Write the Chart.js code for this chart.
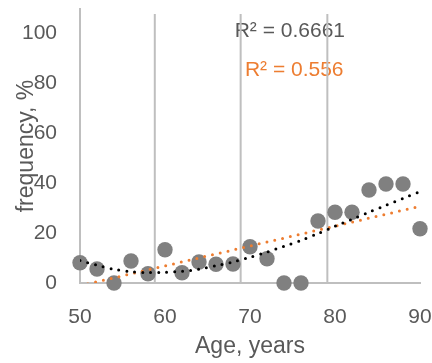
<!DOCTYPE html>
<html><head><meta charset="utf-8">
<script src="https://cdn.jsdelivr.net/npm/chart.js@4.4.1/dist/chart.umd.min.js"></script>
<style>html,body{margin:0;padding:0;background:#fff}#wrap{width:432px;height:363px}</style>
</head><body><div id="wrap"><canvas id="c" width="432" height="363"></canvas></div>
<script>
// Observed data (age in years, frequency in %)
const ages = [50,52,54,56,58,60,62,64,66,68,70,72,74,76,78,80,82,84,86,88,90];
const frequency = [8.1,5.6,0,8.8,3.7,13.3,4.1,8.4,7.5,7.6,14.5,9.7,0,0,24.8,28.3,28.3,37.2,39.6,39.6,21.7];
// Polynomial trendline (black dotted)
const polyTrend = [9.0,7.1,5.5,4.5,4.2,4.3,4.7,5.5,6.9,8.4,10.3,12.4,14.7,17.0,19.8,22.7,25.5,28.3,31.1,33.8,36.6];
// Linear trendline (orange dotted), end points
const linTrendX = [50, 90];
const linTrendY = [-1.1, 30.7];
// Axes
const xTicks = [50,60,70,80,90];
const yTicks = [0,20,40,60,80,100];
const xRange = [50, 90];
const yRange = [0, 109.6];
// Vertical reference lines
const refLinesX = [58.8, 68.9, 79.1];
const refLineTop = 107.6;
// R² labels
const r2Labels = ['R² = 0.6661', 'R² = 0.556'];
const r2X = [68.2, 69.4];
const r2Y = [100.6, 85.0];
const r2Colors = ['#595959', '#ED7D31'];

const FONT = '"Liberation Sans", Arial, sans-serif';
const TXT = '#595959';
const GRID = '#BFBFBF';

const refDatasets = refLinesX.map(v => ({
  type: 'line',
  data: [{x: v, y: 0}, {x: v, y: refLineTop}],
  borderColor: GRID, borderWidth: 2, pointRadius: 0, order: 10
}));

const r2Plugin = {
  id: 'r2',
  beforeDatasetsDraw(chart) {
    const {ctx, scales: {x, y}} = chart;
    ctx.save();
    ctx.font = '21px ' + FONT;
    ctx.textAlign = 'left';
    ctx.textBaseline = 'middle';
    r2Labels.forEach((t, i) => {
      ctx.fillStyle = r2Colors[i];
      ctx.fillText(t, x.getPixelForValue(r2X[i]), y.getPixelForValue(r2Y[i]));
    });
    ctx.restore();
  }
};

new Chart(document.getElementById('c'), {
  type: 'scatter',
  data: {
    datasets: [
      {
        type: 'line',
        data: ages.map((a, i) => ({x: a, y: polyTrend[i]})),
        borderColor: '#000', borderWidth: 3, borderDash: [0, 8], borderCapStyle: 'round',
        pointRadius: 0, tension: 0.3, order: 1
      },
      {
        type: 'line',
        data: linTrendX.map((a, i) => ({x: a, y: linTrendY[i]})),
        borderColor: '#ED7D31', borderWidth: 3, borderDash: [0, 8], borderCapStyle: 'round',
        pointRadius: 0, order: 2
      },
      {
        data: ages.map((a, i) => ({x: a, y: frequency[i]})),
        backgroundColor: '#808080', borderColor: '#808080', borderWidth: 0,
        pointRadius: 7.7, pointHoverRadius: 7.7, clip: false, order: 5
      },
      ...refDatasets
    ]
  },
  options: {
    responsive: false, animation: false, devicePixelRatio: 1,
    layout: {padding: {left: 0, right: 12, top: 9, bottom: 0}},
    plugins: {legend: {display: false}, tooltip: {enabled: false}},
    scales: {
      x: {
        type: 'linear', min: xRange[0], max: xRange[1],
        afterBuildTicks: s => { s.ticks = xTicks.map(v => ({value: v})); },
        afterFit: s => { s.height = 80; s.paddingLeft = 0; s.paddingRight = 0; },
        grid: {display: false, drawTicks: false},
        border: {display: true, color: GRID, width: 2},
        ticks: {color: TXT, font: {family: FONT, size: 21}, padding: 22, maxRotation: 0},
        title: {display: true, text: 'Age, years', color: TXT, font: {family: FONT, size: 23}, padding: {top: 0, bottom: 3}}
      },
      y: {
        type: 'linear', min: yRange[0], max: yRange[1],
        afterBuildTicks: s => { s.ticks = yTicks.map(v => ({value: v})); },
        afterFit: s => { s.width = 80; s.paddingTop = 0; s.paddingBottom = 0; },
        grid: {display: false, drawTicks: false},
        border: {display: true, color: GRID, width: 2},
        ticks: {color: TXT, font: {family: FONT, size: 21}, padding: 23},
        title: {display: true, text: 'frequency, %', color: TXT, font: {family: FONT, size: 23}, padding: {top: 13, bottom: 0}}
      }
    }
  },
  plugins: [r2Plugin]
});
</script></body></html>
